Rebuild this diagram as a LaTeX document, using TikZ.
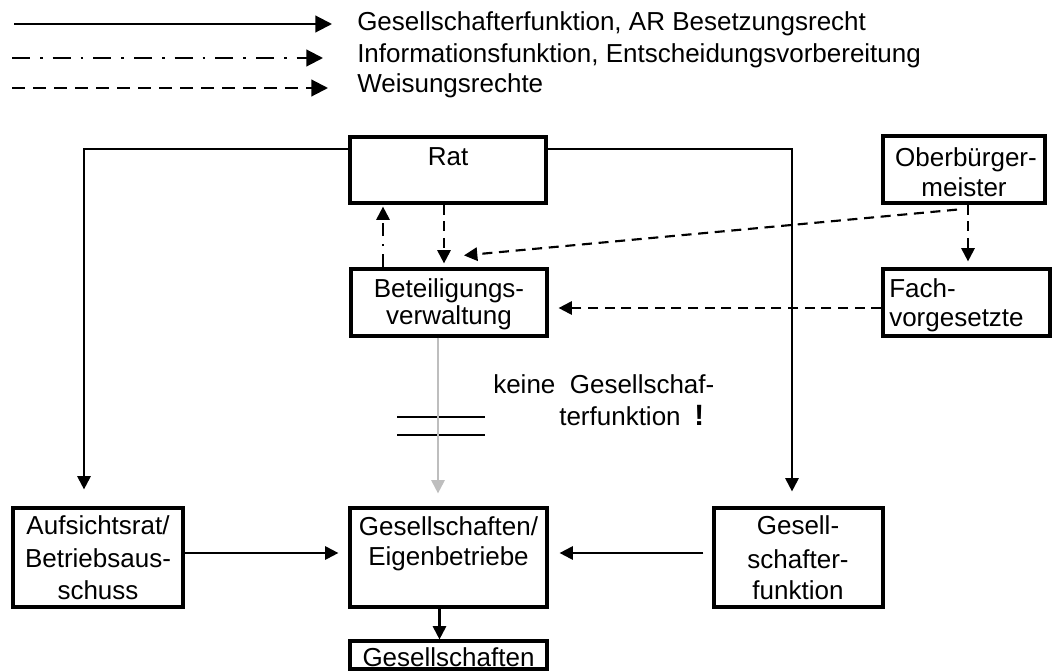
\documentclass[tikz,border=0pt]{standalone}
\usepackage{fontspec}
\setmainfont{Liberation Sans}
\usetikzlibrary{arrows.meta,calc}
\definecolor{lgray}{RGB}{190,190,190}
\begin{document}
\begin{tikzpicture}[x=0.75pt,y=-0.75pt,
  every node/.style={font=\fontsize{19.5}{24}\selectfont},
  box/.style={draw, line width=2.4pt, rectangle, inner sep=0pt},
  lbl/.style={anchor=base, inner sep=0pt},
  con/.style={line width=1.6pt},
  tip/.style={-{Triangle[length=10pt,width=10pt]}},
  bigtip/.style={-{Triangle[length=12.5pt,width=12.5pt]}},
  dsh/.style={dash pattern=on 7.5pt off 5pt},
  dshdot/.style={dash pattern=on 10pt off 6pt on 1.5pt off 6pt},
  lgdsh/.style={dash pattern=on 9.75pt off 6pt},
  lgdshdot/.style={dash pattern=on 13.5pt off 7.5pt on 2pt off 7.5pt}]
\useasboundingbox (0,0) rectangle (1053,671);

% legend
\coordinate (l1a) at (14,24);  \coordinate (l1b) at (332,24);
\coordinate (l2a) at (12,58);  \coordinate (l2b) at (323,58);
\coordinate (l3a) at (12,88);  \coordinate (l3b) at (328,88);
\draw[con,bigtip] (l1a) -- (l1b);
\draw[con,bigtip,lgdshdot] (l2a) -- (l2b);
\draw[con,bigtip,lgdsh] (l3a) -- (l3b);
\node[lbl,anchor=base west] (lt1) at (357,31) {Gesellschafterfunktion, AR Besetzungsrecht};
\node[lbl,anchor=base west] (lt2) at (357,62) {Informationsfunktion, Entscheidungsvorbereitung};
\node[lbl,anchor=base west] (lt3) at (357,92) {Weisungsrechte};

% boxes
\node[box, minimum width=147pt, minimum height=49.5pt] (rat) at (448,170) {};
\node[box, minimum width=147pt, minimum height=50.25pt] (bv) at (449,302.5) {};
\node[box, minimum width=121.5pt, minimum height=50.25pt] (ob) at (964,169.5) {};
\node[box, minimum width=125.25pt, minimum height=50.25pt] (fach) at (966.5,302.5) {};
\node[box, minimum width=127.5pt, minimum height=74.25pt] (ar) at (98,557.5) {};
\node[box, minimum width=147.75pt, minimum height=74.25pt] (ge) at (448.5,557.5) {};
\node[box, minimum width=126.75pt, minimum height=74.25pt] (gf) at (798.5,557.5) {};
\node[box, minimum width=147.75pt, minimum height=21pt] (g) at (448.5,655) {};

% box texts
\node[lbl] (t1) at (448,165) {Rat};
\node[lbl] (t2) at (449,297) {Beteiligungs-};
\node[lbl] (t3) at (449,324) {verwaltung};
\node[lbl] (t4) at (966,166) {Oberbürger-};
\node[lbl] (t5) at (964,196) {meister};
\node[lbl,anchor=base west] (t6) at (889,297) {Fach-};
\node[lbl,anchor=base west] (t7) at (889,326) {vorgesetzte};
\node[lbl] (t8) at (98,534) {Aufsichtsrat/};
\node[lbl] (t9) at (98,567) {Betriebsaus-};
\node[lbl] (t10) at (98,599) {schuss};
\node[lbl] (t11) at (448.5,535) {Gesellschaften/};
\node[lbl] (t12) at (448.5,565) {Eigenbetriebe};
\node[lbl] (t13) at (798,534) {Gesell-};
\node[lbl] (t14) at (798,568) {schafter-};
\node[lbl] (t15) at (798,599) {funktion};
\node[lbl] (t16) at (448.5,666) {Gesellschaften};

% note
\node[lbl,anchor=base west] (n1) at (493,393) {keine\ \ Gesellschaf-};
\node[lbl,anchor=base west] (n2) at (559,425) {terfunktion};
\node[lbl,anchor=base west,font=\fontsize{22}{24}\selectfont\bfseries] (n3) at (694,425) {!};
\draw[line width=1.5pt] (397,417) -- (485,417);
\draw[line width=1.5pt] (397,435) -- (485,435);

% connectors
\draw[con,tip] ([shift={(0,-21)}]rat.west) -| ([shift={(-14,-17)}]ar.north);
\draw[con,tip] ([shift={(0,-21)}]rat.east) -| ([shift={(-6.5,-15)}]gf.north);
\draw[con,tip] ([shift={(0,-4.5)}]ar.east) -- ([shift={(-10,-4.5)}]ge.west);
\draw[con,tip] ([shift={(-9,-4.5)}]gf.west) -- ([shift={(11,-4.5)}]ge.east);
\draw[con,tip] ([shift={(-9,0)}]ge.south) -- ([shift={(-9,0)}]g.north);
\draw[con,tip,lgray] ([shift={(-11,0)}]bv.south) -- ([shift={(-10.5,-13)}]ge.north);
\draw[con,tip,dshdot] ([shift={(-66,0)}]bv.north) -- ([shift={(-65,2)}]rat.south);
\draw[con,tip,dsh] ([shift={(-4,0)}]rat.south) -- ([shift={(-5,-4)}]bv.north);
\draw[con,tip,dsh] ([shift={(4,0)}]ob.south) -- ([shift={(1.5,-6)}]fach.north);
\draw[con,tip,dsh] ([shift={(-7,5)}]ob.south) -- ([shift={(15,-12)}]bv.north);
\draw[con,tip,dsh] ([shift={(0,5.5)}]fach.west) -- ([shift={(10,5.5)}]bv.east);
\end{tikzpicture}
\end{document}
